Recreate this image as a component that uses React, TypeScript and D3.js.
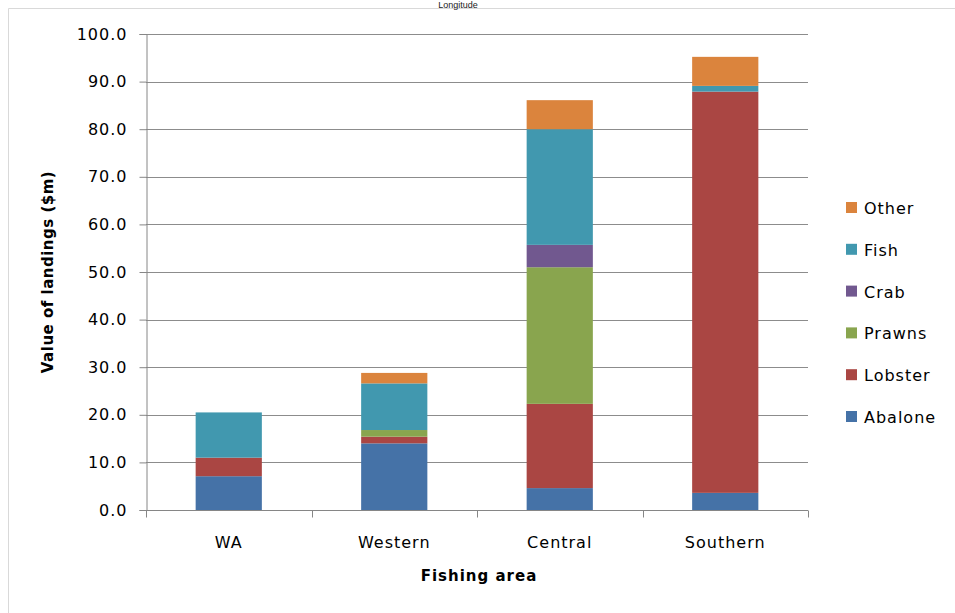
import React, { useEffect, useRef } from 'react';
import * as d3 from 'd3';

const areas = ['WA', 'Western', 'Central', 'Southern'];
const species = ['Abalone', 'Lobster', 'Prawns', 'Crab', 'Fish', 'Other'];
const abalone = [7.1, 14.0, 4.6, 3.6];
const lobster = [3.9, 1.4, 17.7, 84.3];
const prawns = [0, 1.4, 28.7, 0];
const crab = [0, 0, 4.7, 0];
const fish = [9.5, 9.8, 24.3, 1.2];
const other = [0, 2.2, 6.1, 6.1];
const colors = ['#4572A7', '#AA4643', '#89A54E', '#71588F', '#4198AF', '#DB843D'];
const yTicks = [0, 10, 20, 30, 40, 50, 60, 70, 80, 90, 100];

const W = 955;
const H = 613;

const App: React.FC = () => {
  const svgRef = useRef<SVGSVGElement>(null);

  useEffect(() => {
    if (!svgRef.current) return;
    const svg = d3.select(svgRef.current);
    svg.selectAll('*').remove();

    const font = 'DejaVu Sans, Verdana, sans-serif';
    const left = 146, right = 808, top = 34, bottom = 510;

    const rows = areas.map((a, i) => ({
      area: a,
      Abalone: abalone[i], Lobster: lobster[i], Prawns: prawns[i],
      Crab: crab[i], Fish: fish[i], Other: other[i]
    }));
    const stacked = d3.stack<any>().keys(species)(rows);

    const x = d3.scaleBand().domain(areas).range([left, right]).paddingInner(0.6).paddingOuter(0.3);
    const y = d3.scaleLinear().domain([0, 100]).range([bottom, top]);
    const color = d3.scaleOrdinal<string>().domain(species).range(colors);

    // chart border
    svg.append('path')
      .attr('d', `M8.5,${H} V8.5 H${W}`)
      .attr('fill', 'none').attr('stroke', '#d9d9d9');

    svg.append('text')
      .attr('x', 458).attr('y', 8)
      .attr('text-anchor', 'middle')
      .style('font-family', 'Liberation Sans, Arial, sans-serif')
      .style('font-size', '9px')
      .attr('fill', '#222')
      .text('Longitude');

    // gridlines
    svg.append('g').selectAll('line').data(yTicks.slice(1)).enter().append('line')
      .attr('x1', left).attr('x2', right)
      .attr('y1', d => Math.round(y(d)) + 0.5).attr('y2', d => Math.round(y(d)) + 0.5)
      .attr('stroke', '#8c8c8c').attr('stroke-width', 1.2);

    // bars
    svg.append('g').selectAll('g').data(stacked).enter().append('g')
      .attr('fill', d => color(d.key))
      .selectAll('rect').data(d => d).enter().append('rect')
      .attr('x', d => x(d.data.area) as number)
      .attr('width', x.bandwidth())
      .attr('y', d => y(d[1]))
      .attr('height', d => y(d[0]) - y(d[1]));

    // y axis
    const yAxis = svg.append('g')
      .attr('transform', `translate(${left + 0.5},0)`)
      .call(d3.axisLeft(y).tickValues(yTicks).tickSize(7).tickPadding(12).tickFormat(d3.format('.1f')));
    yAxis.select('.domain').attr('stroke', '#868686');
    yAxis.selectAll('.tick line').attr('stroke', '#868686');
    yAxis.selectAll('text').style('font-family', font).style('font-size', '16px')
      .style('letter-spacing', '1px').attr('fill', '#000');

    // x axis
    const xAxis = svg.append('g').attr('transform', `translate(0,${bottom + 0.5})`);
    xAxis.append('line').attr('x1', left).attr('x2', right).attr('stroke', '#868686');
    const step = (right - left) / areas.length;
    xAxis.selectAll('line.tk').data(d3.range(areas.length + 1)).enter().append('line')
      .attr('class', 'tk')
      .attr('x1', i => Math.round(left + i * step) + 0.5).attr('x2', i => Math.round(left + i * step) + 0.5)
      .attr('y1', 0).attr('y2', 7).attr('stroke', '#868686');
    xAxis.selectAll('text').data(areas).enter().append('text')
      .attr('x', d => (x(d) as number) + x.bandwidth() / 2)
      .attr('y', 37)
      .attr('text-anchor', 'middle')
      .style('font-family', font).style('font-size', '16px').style('letter-spacing', '1px')
      .text(d => d);

    // axis titles
    svg.append('text')
      .attr('transform', `translate(53,${(top + bottom) / 2}) rotate(-90)`)
      .attr('text-anchor', 'middle')
      .style('font-family', font).style('font-size', '15px').style('font-weight', 'bold')
      .style('letter-spacing', '0.5px')
      .text('Value of landings ($m)');
    svg.append('text')
      .attr('x', (left + right) / 2 + 2).attr('y', 581)
      .attr('text-anchor', 'middle')
      .style('font-family', font).style('font-size', '15px').style('font-weight', 'bold')
      .style('letter-spacing', '1px')
      .text('Fishing area');

    // legend
    const legendItems = species.slice().reverse();
    const lg = svg.append('g').attr('transform', 'translate(846,208)');
    const item = lg.selectAll('g').data(legendItems).enter().append('g')
      .attr('transform', (_d, i) => `translate(0,${i * 41.8})`);
    item.append('rect').attr('x', 0).attr('y', -6).attr('width', 11).attr('height', 11)
      .attr('fill', d => color(d));
    item.append('text').attr('x', 18).attr('y', 6)
      .style('font-family', font).style('font-size', '16px').style('letter-spacing', '1px')
      .text(d => d);
  }, []);

  return (
    <svg
      ref={svgRef}
      width={W}
      height={H}
      style={{ position: 'absolute', left: 0, top: 0, background: '#fff' }}
    />
  );
};

export default App;
